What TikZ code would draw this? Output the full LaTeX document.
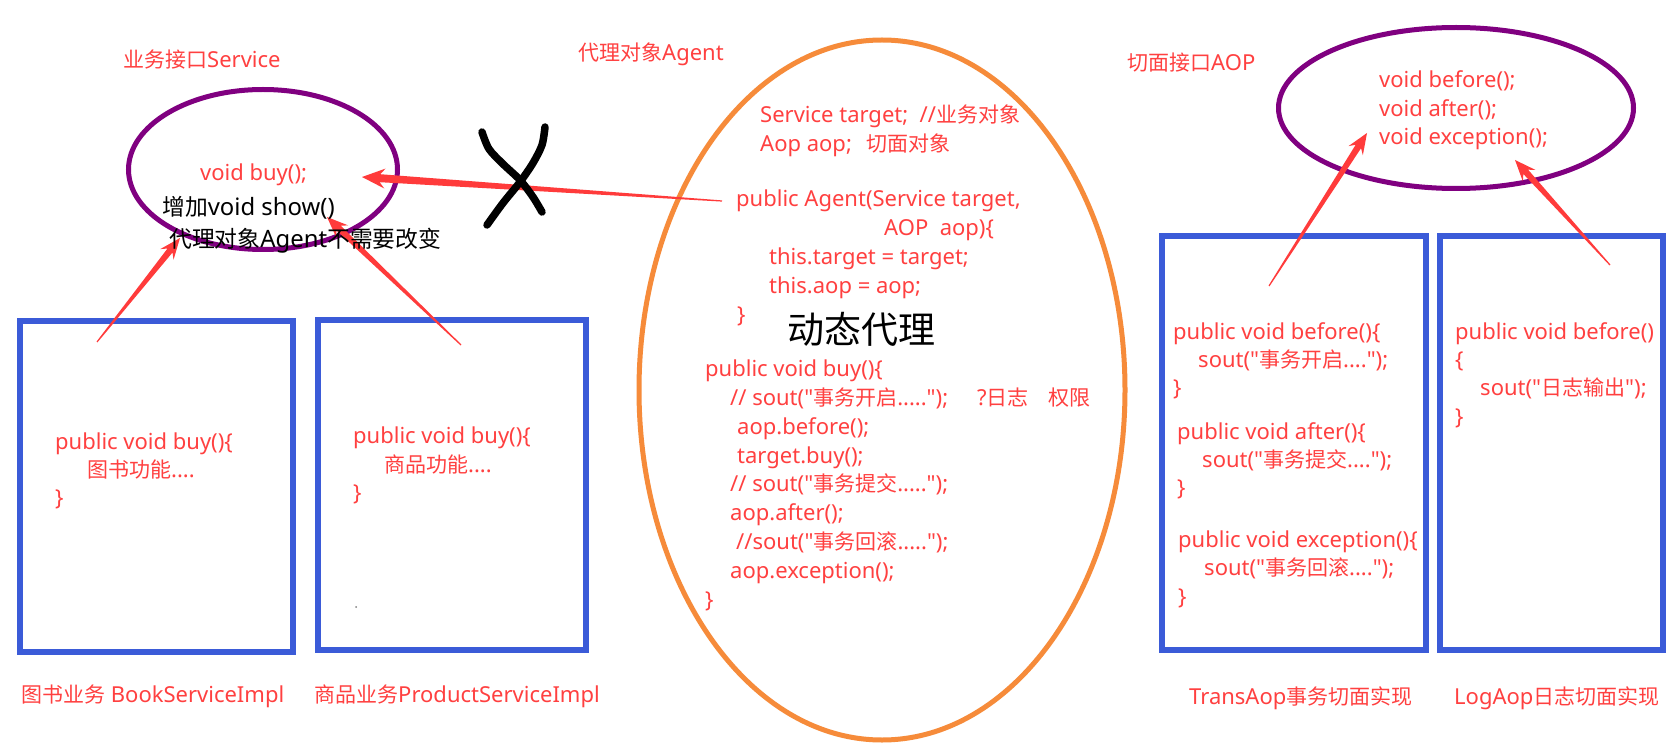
\documentclass[tikz,border=0pt]{standalone}
\usepackage{fontspec}
\newfontfamily\latinfont{Noto Sans}[Scale=1.0476]
\newfontfamily\cjkfont{Noto Sans CJK SC}
\newcommand\zh[1]{{\cjkfont #1}}
\usetikzlibrary{shapes.geometric,calc}
\definecolor{codered}{RGB}{255,64,64}
\definecolor{arrowred}{RGB}{255,59,59}
\definecolor{boxblue}{RGB}{59,91,216}
\definecolor{ifpurple}{RGB}{128,0,128}
\definecolor{agentorange}{RGB}{246,139,58}
\tikzset{
  code/.style={anchor=base west, inner sep=0pt, text=codered, font=\latinfont\fontsize{21}{21}\selectfont, yshift=-7.5pt},
  note/.style={anchor=base west, inner sep=0pt, text=black, font=\latinfont\fontsize{22.8}{22.8}\selectfont, yshift=-8.2pt},
  implbox/.style={draw=boxblue, line width=6pt, rectangle, inner sep=0pt},
  iface/.style={draw=ifpurple, line width=5pt, ellipse, inner sep=0pt},
  agentshape/.style={draw=agentorange, line width=5pt, ellipse, inner sep=0pt},
  xstroke/.style={line width=7.5pt, line cap=round, line join=round, black},
}
% tapered arrow: tail, tip, head length, notch length, head half width, shaft half width
\newcommand\tarrow[6]{%
  \coordinate (#1hb) at ($(#2)!#3!(#1)$);
  \coordinate (#1sb) at ($(#2)!#4!(#1)$);
  \fill[arrowred] ($(#1)!0.6pt!90:(#2)$) -- ($(#1sb)!#6!90:(#2)$) -- ($(#1hb)!#5!90:(#2)$) -- (#2)
     -- ($(#1hb)!#5!-90:(#2)$) -- ($(#1sb)!#6!-90:(#2)$) -- ($(#1)!0.6pt!-90:(#2)$) -- cycle;
}
\begin{document}
\begin{tikzpicture}[x=1pt,y=-1pt]
\useasboundingbox (0,0) rectangle (1674,754);
\fill[white] (0,0) rectangle (1674,754);

% implementation boxes
\node[implbox, minimum width=273pt, minimum height=331pt] (book) at (156.5,486.5) {};
\node[implbox, minimum width=268pt, minimum height=330pt] (product) at (452,485) {};
\node[implbox, minimum width=264pt, minimum height=414pt] (trans) at (1294,443) {};
\node[implbox, minimum width=223pt, minimum height=414pt] (log) at (1551.5,443) {};

% interfaces and agent
\node[iface, minimum width=269pt, minimum height=160pt] (service) at (263,169.5) {};
\node[iface, minimum width=355pt, minimum height=161pt] (aop) at (1456,108) {};
\node[agentshape, minimum width=486pt, minimum height=700pt] (agent) at (882,390) {};

% arrows
\coordinate (agTail) at (722,201);  \coordinate (agTip) at (362,177);
\coordinate (bkTail) at (97,342);   \coordinate (bkTip) at (180,238);
\coordinate (prTail) at (461,345);  \coordinate (prTip) at (327,217);
\coordinate (trTail) at (1269,286); \coordinate (trTip) at (1367,133);
\coordinate (lgTail) at (1610,265); \coordinate (lgTip) at (1515,160);
\tarrow{agTail}{agTip}{23pt}{18pt}{10pt}{4pt}
\tarrow{bkTail}{bkTip}{21pt}{16pt}{8.5pt}{3.2pt}
\tarrow{prTail}{prTip}{21pt}{16pt}{8.5pt}{3.2pt}
\tarrow{trTail}{trTip}{21pt}{16pt}{8.5pt}{3.2pt}
\tarrow{lgTail}{lgTip}{21pt}{16pt}{8.5pt}{3.2pt}

% cross mark
\draw[xstroke] plot[smooth] coordinates {(482,132) (489,149) (503,164) (520,180) (533,197) (542,212)};
\draw[xstroke] plot[smooth] coordinates {(545,127) (542,145) (533,163) (520,182) (503,203) (487,225)};

% titles
\node[code] (tSvc) at (123,60) {\zh{业务接口}Service};
\node[code] (tAgent) at (578,53) {\zh{代理对象}Agent};
\node[code] (tAop) at (1127,63) {\zh{切面接口}AOP};

% service interface
\node[code] (svcBuy) at (200,173) {void buy();};
\node[note] (nShow) at (162,207) {\zh{增加}void show()};
\node[note] (nAgent) at (169,239) {\zh{代理对象}Agent\zh{不需要改变}};

% book / product
\node[code] (b1a) at (55,442) {public void buy()\{};
\node[code] (b1b) at (87,470) {\zh{图书功能}....};
\node[code] (b1c) at (55,498) {\}};
\node[code] (b2a) at (353,436) {public void buy()\{};
\node[code] (b2b) at (384,465) {\zh{商品功能}....};
\node[code] (b2c) at (353,493) {\}};
\fill[gray] (356,607) circle (1pt);
\node[code] (l1) at (21,695) {\zh{图书业务} BookServiceImpl};
\node[code] (l2) at (314,695) {\zh{商品业务}ProductServiceImpl};

% agent
\node[code] (g1) at (760,115) {Service target;\ \ //\zh{业务对象}};
\node[code] (g2) at (760,144) {Aop aop;\hspace{15pt}\zh{切面对象}};
\node[code] (g3) at (736,199) {public Agent(Service target,};
\node[code] (g4) at (884,228) {AOP\ \ aop)\{};
\node[code] (g5) at (769,257) {this.target = target;};
\node[code] (g6) at (769,286) {this.aop = aop;};
\node[code] (g7) at (737,315) {\}};
\node[inner sep=0pt, font=\cjkfont\fontsize{37}{37}\selectfont] (dyn) at (861,329) {动态代理};
\node[code] (h1) at (705,369) {public void buy()\{};
\node[code] (h2) at (730,398) {// sout("\zh{事务开启}.....");};
\node[code] (h2b) at (977,398) {?\zh{日志}};
\node[code] (h2c) at (1048,398) {\zh{权限}};
\node[code] (h3) at (737,427) {aop.before();};
\node[code] (h4) at (737,456) {target.buy();};
\node[code] (h5) at (730,484) {// sout("\zh{事务提交}.....");};
\node[code] (h6) at (730,513) {aop.after();};
\node[code] (h7) at (736,542) {//sout("\zh{事务回滚}.....");};
\node[code] (h8) at (730,571) {aop.exception();};
\node[code] (h9) at (705,600) {\}};

% aop interface
\node[code] (a1) at (1379,80) {void before();};
\node[code] (a2) at (1379,109) {void after();};
\node[code] (a3) at (1379,137) {void exception();};

% trans aop
\node[code] (t1) at (1173,332) {public void before()\{};
\node[code] (t2) at (1198,360) {sout("\zh{事务开启}....");};
\node[code] (t3) at (1173,388) {\}};
\node[code] (t4) at (1177,432) {public void after()\{};
\node[code] (t5) at (1202,460) {sout("\zh{事务提交}....");};
\node[code] (t6) at (1177,488) {\}};
\node[code] (t7) at (1178,540) {public void exception()\{};
\node[code] (t8) at (1204,568) {sout("\zh{事务回滚}....");};
\node[code] (t9) at (1178,597) {\}};

% log aop
\node[code] (o1) at (1455,332) {public void before()};
\node[code] (o2) at (1455,360) {\{};
\node[code] (o3) at (1480,388) {sout("\zh{日志输出}");};
\node[code] (o4) at (1455,417) {\}};

\node[code] (l3) at (1189,697) {TransAop\zh{事务切面实现}};
\node[code] (l4) at (1454,697) {LogAop\zh{日志切面实现}};
\end{tikzpicture}
\end{document}
